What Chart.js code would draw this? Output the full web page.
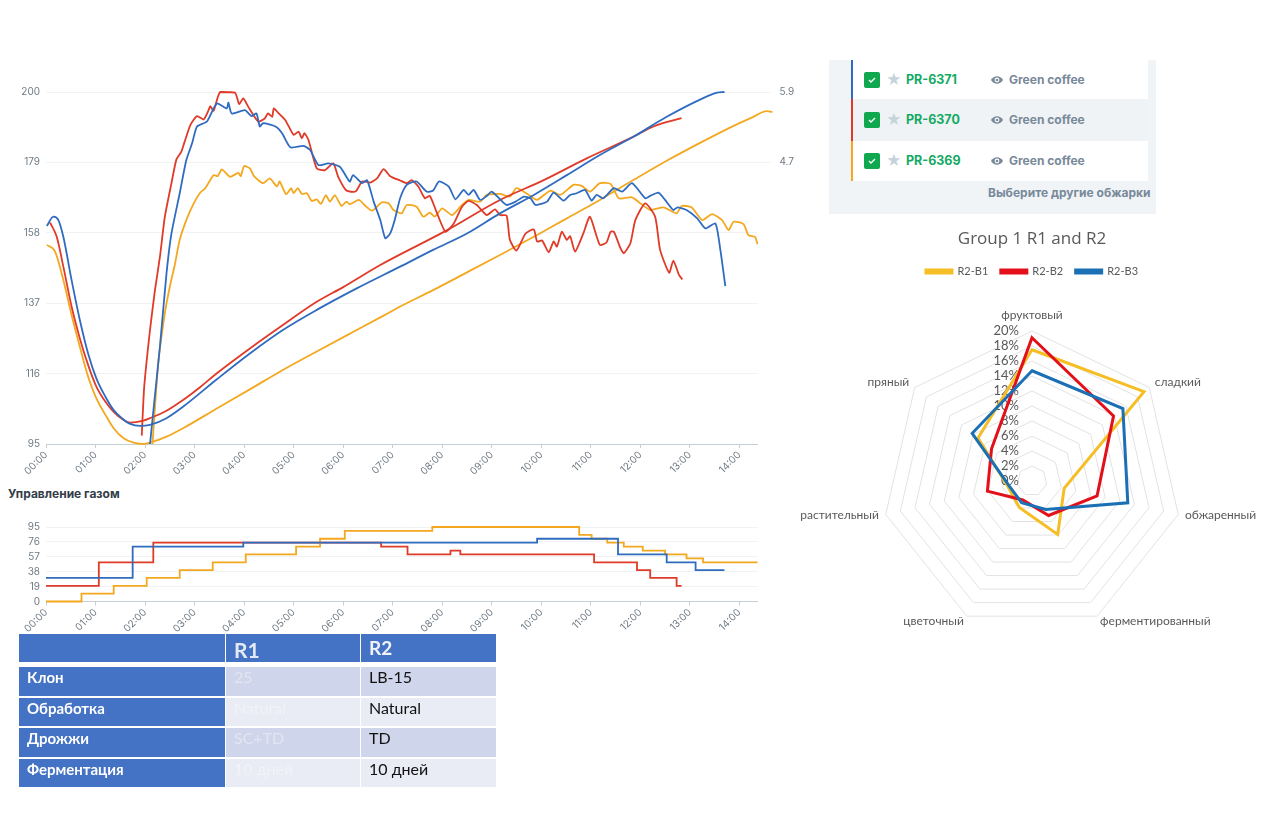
<!DOCTYPE html>
<html>
<head>
<meta charset="utf-8">
<title>Group 1 R1 and R2</title>
<script src="https://cdn.jsdelivr.net/npm/chart.js@4"></script>
<style>
  body { margin: 0; background: #fff; width: 1280px; height: 835px; overflow: hidden; position: relative; font-family: Inter, sans-serif; }
  canvas { position: absolute; }
  .abs { position: absolute; }
  #gasTitle { left: 8px; top: 486px; font-size: 12px; font-weight: 700; color: #333d47; }
  #panel { left: 829px; top: 60px; width: 327px; height: 154px; background: #f1f4f7; }
  .row { position: absolute; left: 24px; width: 295px; }
  .bar { position: absolute; left: -2px; top: 0; bottom: 0; width: 2px; }
  .check { position: absolute; left: 11px; width: 16px; height: 16px; border-radius: 2px; background: #10a84f; }
  .star { position: absolute; left: 33px; font-size: 15px; color: #c5d3da; line-height: 16px; }
  .code { position: absolute; left: 53px; font-size: 12.5px; font-weight: 700; color: #14a963; line-height: 16px; }
  .eye { position: absolute; left: 137px; }
  .name { position: absolute; left: 156px; font-size: 12px; font-weight: 700; color: #78899a; line-height: 16px; }
  #more { left: 159px; top: 125px; font-size: 12px; font-weight: 700; color: #78899a; white-space: nowrap; }
  #info { left: 18px; top: 632px; border-collapse: separate; border-spacing: 1px 2px; font-family: Lato, sans-serif; table-layout: fixed; }
  #info td { padding: 0 0 0 8px; height: 28.5px; vertical-align: top; background: #cfd5ea; font-size: 16px; color: #111; line-height: 20px; }
  #info tr.alt td { background: #e9ebf5; }
  #info tr td.head { background: #4472c4; color: #fff; font-weight: 700; font-size: 15px; }
  #info tr.top td { height: 28px; background: #4472c4; font-weight: 700; color: #f0f3fa; font-size: 19px; line-height: 28px; border-bottom: 3px solid #fff; }
  #info tr.top td:nth-child(2) { font-size: 21px; color: #e4e9f4; }
  #info tr.top td:nth-child(2) span { position: relative; top: 2px; }
  #info td.faint { color: rgba(255, 255, 255, 0.4); }
</style>
</head>
<body>
<canvas id="roastChart" width="800" height="400" style="left:0;top:77px"></canvas>
<div class="abs" id="gasTitle">Управление газом</div>
<canvas id="gasChart" width="800" height="125" style="left:0;top:515px"></canvas>
<div class="abs" id="panel"><div class="abs" id="more">Выберите другие обжарки</div></div>
<canvas id="radarChart" width="484" height="448" style="left:790px;top:229px"></canvas>
<table class="abs" id="info"></table>

<script>
// часы по оси X
const hourLabels = ['00:00', '01:00', '02:00', '03:00', '04:00', '05:00', '06:00', '07:00', '08:00', '09:00', '10:00', '11:00', '12:00', '13:00', '14:00'];
const tempTicks = [95, 116, 137, 158, 179, 200];
const rightTicks = [4.7, 5.9];
const gasTicks = [0, 19, 38, 57, 76, 95];

// температура, минуты / значение
const yellowTempT = [1, 11, 21, 31, 41, 51, 61, 72, 82, 94, 106, 118, 126, 146, 166, 207, 247, 287, 328, 368, 409, 429, 469, 510, 550, 591, 631, 671, 712, 752, 793, 833, 857, 873, 880];
const yellowTempV = [154.4, 152.4, 143.9, 133.5, 124, 115.1, 108.6, 103.7, 99.7, 96.7, 95.4, 95, 95.4, 97.2, 99.7, 105.6, 111.3, 117.1, 122.6, 127.9, 133.3, 136, 140.9, 146.2, 151.4, 156.8, 162.3, 167.8, 173.8, 179.5, 184.9, 189.9, 192.6, 194.3, 194];
const redTempT = [5, 13, 21, 31, 41, 51, 61, 72, 82, 92, 102, 118, 126, 146, 166, 187, 207, 247, 287, 328, 360, 405, 486, 550, 603, 655, 712, 736, 770];
const redTempV = [161, 156.8, 147.9, 136, 126.5, 118.6, 112.1, 107.6, 104.6, 102.5, 101.4, 102, 102.7, 104.9, 108.1, 112, 116.1, 123.5, 130.5, 137.4, 141.8, 148.4, 158.8, 167.8, 173.7, 180.2, 186.7, 189.7, 192.2];
const blueTempT = [1, 9, 15, 21, 31, 41, 51, 61, 72, 82, 92, 102, 114, 126, 146, 166, 207, 247, 287, 328, 377, 429, 469, 510, 550, 591, 631, 671, 712, 752, 793, 813, 822];
const blueTempV = [160, 162.8, 161.8, 156.8, 143.9, 132, 122, 114.6, 109.1, 105.1, 102.7, 101, 100.4, 100.7, 102.7, 106.1, 114.3, 122, 129, 135, 141.5, 147.9, 152.9, 157.8, 163.8, 169.3, 175.2, 181.2, 186.7, 192.6, 197.8, 199.8, 200];

// скорость роста (шумные линии)
const yellowRorT = [129, 136, 144, 150, 156, 162, 170, 179, 187, 193, 203, 208, 213, 223, 233, 236, 240, 247, 252, 263, 271, 280, 283, 291, 297, 300, 305, 310, 316, 322, 328, 333, 339, 344, 350, 358, 364, 368, 379, 387, 395, 407, 415, 421, 431, 437, 449, 457, 465, 471, 480, 492, 504, 512, 526, 534, 550, 562, 570, 585, 595, 611, 623, 639, 649, 659, 671, 684, 694, 710, 720, 732, 748, 764, 770, 782, 795, 807, 819, 827, 833, 845, 851, 859, 862];
const yellowRorV = [95, 119.1, 134, 141.9, 148.4, 155.9, 161.8, 166.8, 170, 171.3, 175.2, 174.9, 176.9, 174.7, 175.9, 174.9, 177.9, 177.2, 174.9, 172.8, 174.2, 171.8, 173.3, 169.5, 171.3, 169.8, 171.3, 169.6, 169.8, 167.5, 168, 166.6, 169.2, 167.3, 169.2, 166, 167.3, 166.5, 167.8, 166, 164.6, 167.1, 166.8, 164.8, 163.8, 166.3, 165.8, 162.8, 164, 162.8, 165.3, 163.3, 166.3, 167.8, 167.3, 169.3, 169.6, 168.8, 171.3, 169.3, 167.8, 170.6, 169.3, 172.3, 172, 170.3, 172.8, 172.6, 168.3, 168.6, 166.8, 164.8, 165.6, 163.8, 166, 165.6, 161.8, 163.6, 161.8, 158.8, 161.3, 160.6, 157.3, 156.8, 154.6];
const redRorT = [116, 119, 126, 132, 138, 144, 152, 158, 164, 168, 175, 183, 191, 197, 199, 203, 211, 229, 234, 239, 245, 257, 265, 269, 274, 276, 282, 290, 300, 306, 310, 313, 318, 328, 338, 348, 354, 364, 375, 383, 393, 401, 409, 417, 429, 437, 443, 451, 459, 465, 473, 484, 494, 504, 512, 522, 534, 544, 550, 558, 562, 570, 581, 591, 595, 601, 609, 615, 619, 625, 631, 635, 641, 651, 659, 671, 679, 684, 688, 696, 700, 708, 714, 726, 738, 744, 755, 760, 767, 771];
const redRorV = [97.5, 112.1, 129, 140.9, 150.8, 162.8, 172.8, 179.9, 182.2, 185.2, 190.2, 192.8, 191.8, 194.6, 195.8, 194.4, 200, 199.8, 196.4, 198.1, 195.6, 191.2, 192.1, 193.6, 192.6, 195.1, 193.6, 191.6, 187.2, 188.2, 186.2, 187.7, 185.7, 177.2, 176.7, 178.7, 174.7, 170.6, 170.3, 173.3, 173, 174.2, 177, 174.9, 173.6, 172.8, 173.7, 171.8, 168.3, 169, 164.3, 158.3, 160.8, 165.8, 167.5, 166.3, 163.3, 165, 163.3, 163.1, 155.9, 152.7, 157.8, 159, 155.4, 155.7, 152.2, 155.4, 153.9, 158.3, 155.9, 157, 152.4, 157.8, 162.8, 154.4, 155.1, 158.3, 158.3, 153.4, 151.9, 154.9, 161.8, 166.8, 162.8, 152.9, 146.1, 149.7, 145.4, 144.1];
const blueRorT = [126, 131, 138, 146, 152, 162, 170, 177, 183, 195, 207, 219, 221, 225, 241, 249, 255, 259, 263, 278, 286, 296, 312, 320, 330, 342, 356, 368, 372, 383, 389, 397, 405, 411, 417, 423, 429, 437, 449, 461, 469, 476, 488, 496, 506, 512, 518, 526, 534, 540, 550, 558, 569, 579, 587, 593, 607, 615, 627, 635, 643, 653, 661, 667, 675, 688, 698, 710, 726, 732, 742, 750, 760, 765, 776, 789, 799, 811, 817, 823];
const blueRorV = [95, 107.1, 124, 145.9, 157.8, 169.8, 179.7, 184.7, 189.7, 191.2, 196.6, 195.1, 196.8, 193.6, 194.6, 192.8, 193.6, 189.7, 190.7, 189.7, 187.7, 183.5, 183.9, 182.7, 178.2, 178.7, 177.7, 173.3, 175.2, 172.8, 173.7, 167.3, 161.8, 156.4, 157.8, 162.3, 168.3, 172.3, 173.3, 170.3, 170.6, 173.3, 171.8, 168, 170.8, 169.3, 170.8, 167.8, 169, 170.3, 168, 166.3, 167.3, 168.8, 168.3, 166.3, 167.3, 170, 167.6, 169.3, 169.8, 170.8, 167.6, 169.3, 168.3, 171.3, 170.3, 172.8, 168.3, 169, 170, 167.8, 164.8, 165.6, 164.8, 162.3, 159.3, 160.8, 152.9, 142.1];

// газ: минута переключения / уровень
const yellowGasT = [0, 43, 82, 122, 162, 202, 242, 303, 332, 362, 468, 646, 661, 680, 700, 723, 750, 776, 796, 862];
const yellowGasV = [0, 10, 20, 30, 40, 50, 60, 70, 80, 90, 95, 85, 80, 75, 70, 65, 60, 55, 50, 50];
const redGasT = [0, 64, 130, 406, 438, 490, 502, 664, 716, 732, 764, 770];
const redGasV = [20, 50, 75, 70, 60, 65, 60, 50, 40, 30, 20, 20];
const blueGasT = [0, 105, 239, 595, 693, 752, 787, 822];
const blueGasV = [30, 70, 75, 80, 60, 50, 40, 40];

// радар
const flavorLabels = ['фруктовый', 'сладкий', 'обжаренный', 'ферментированный', 'цветочный', 'растительный', 'пряный'];
const radarB1 = [17.5, 19.1, 4.4, 7.9, 3.9, 3.3, 9.2];
const radarB2 = [19.1, 13.9, 8.9, 5.1, 2.8, 6.1, 6.9];
const radarB3 = [14.7, 15.5, 13.1, 4.2, 3.2, 3.1, 10.2];
const radarNames = ['R2-B1', 'R2-B2', 'R2-B3'];

// панель обжарок
const roastCodes = ['PR-6371', 'PR-6370', 'PR-6369'];
const roastNames = ['Green coffee', 'Green coffee', 'Green coffee'];

// таблица
const tableHead = ['', 'R1', 'R2'];
const tableRows = ['Клон', 'Обработка', 'Дрожжи', 'Ферментация'];
const tableR1 = ['25', 'Natural', 'SC+TD', '10 дней'];
const tableR2 = ['LB-15', 'Natural', 'TD', '10 дней'];

const BLUE = '#2f6cc0';
const RED = '#e03a28';
const YELLOW = '#f3a81f';
const GRID = '#f0f2f4';
const LABEL = '#6f7a84';

function toPoints(times, values) {
  return times.map((t, i) => ({ x: t, y: values[i] }));
}

function line(times, values, color, extra) {
  return Object.assign({
    data: toPoints(times, values),
    borderColor: color,
    borderWidth: 1.8,
    pointRadius: 0,
    fill: false,
    clip: false,
    cubicInterpolationMode: 'monotone'
  }, extra);
}

// шумные линии без сильного сглаживания
const noisy = { cubicInterpolationMode: 'default', tension: 0.2 };
const steps = { stepped: true, cubicInterpolationMode: 'default' };

// ось времени, общая для двух графиков
function timeAxis(height) {
  return {
    type: 'linear',
    afterDataLimits: s => { s.min = 0; s.max = 862; },
    afterBuildTicks: s => {
      s.ticks = hourLabels.map((_, i) => ({ value: i * 60 }));
      s.min = 0;
      s.max = 862;
    },
    afterFit: s => { s.height = height; },
    grid: { drawOnChartArea: false, tickLength: 4, tickColor: '#c4d0d6' },
    border: { color: '#c4d0d6' },
    ticks: {
      autoSkip: false, maxRotation: 45, minRotation: 45, padding: 1,
      color: LABEL, font: { family: 'Inter', size: 10 },
      callback: v => hourLabels[v / 60]
    }
  };
}

function valueAxis(list) {
  return {
    min: list[0],
    max: list[list.length - 1],
    afterBuildTicks: s => { s.ticks = list.map(v => ({ value: v })); },
    afterFit: s => { s.width = 46; },
    grid: { color: GRID, drawTicks: false },
    border: { display: false },
    ticks: { autoSkip: false, padding: 6, color: LABEL, font: { family: 'Inter', size: 10 } }
  };
}

new Chart(document.getElementById('roastChart'), {
  type: 'line',
  data: {
    datasets: [
      line(blueTempT, blueTempV, BLUE),
      line(blueRorT, blueRorV, BLUE, noisy),
      line(redTempT, redTempV, RED),
      line(redRorT, redRorV, RED, noisy),
      line(yellowTempT, yellowTempV, YELLOW),
      line(yellowRorT, yellowRorV, YELLOW, noisy)
    ]
  },
  options: {
    responsive: false,
    animation: false,
    layout: { padding: { top: 9 } },
    plugins: { legend: { display: false }, tooltip: { enabled: false } },
    scales: {
      x: timeAxis(33),
      y: valueAxis(tempTicks),
      yRight: {
        position: 'right',
        min: -0.1,
        max: 5.9,
        afterBuildTicks: s => { s.ticks = rightTicks.map(v => ({ value: v })); },
        afterFit: s => { s.width = 42.5; },
        grid: { drawOnChartArea: false, tickLength: 13, tickColor: GRID },
        border: { display: false },
        ticks: { padding: 9, color: LABEL, font: { family: 'Inter', size: 10 } }
      }
    }
  }
});

new Chart(document.getElementById('gasChart'), {
  type: 'line',
  data: {
    datasets: [
      line(blueGasT, blueGasV, BLUE, steps),
      line(yellowGasT, yellowGasV, YELLOW, steps),
      line(redGasT, redGasV, RED, steps)
    ]
  },
  options: {
    responsive: false,
    animation: false,
    layout: { padding: { top: 7.5, right: 42.5 } },
    plugins: { legend: { display: false }, tooltip: { enabled: false } },
    scales: { x: timeAxis(38.5), y: valueAxis(gasTicks) }
  }
});

// подписи радара: проценты слева от оси (под линиями), категории у вершин
const radarText = {
  id: 'radarText',
  beforeDatasetsDraw(chart) {
    const s = chart.scales.r;
    const ctx = chart.ctx;
    ctx.save();
    ctx.fillStyle = '#595959';
    ctx.font = '13px Lato';
    ctx.textAlign = 'right';
    ctx.textBaseline = 'middle';
    s.ticks.forEach(t => {
      ctx.fillText(t.value + '%', s.xCenter - 13, s.yCenter - s.getDistanceFromCenterForValue(t.value));
    });
    ctx.font = '12px Lato';
    flavorLabels.forEach((label, i) => {
      const p = s.getPointPosition(i, s.drawingArea + 7);
      const dx = p.x - s.xCenter;
      const top = Math.abs(dx) < 1;
      ctx.textAlign = top ? 'center' : (dx > 0 ? 'left' : 'right');
      ctx.textBaseline = top ? 'bottom' : 'middle';
      ctx.fillText(label, p.x, top ? p.y - 3 : p.y - 1);
    });
    ctx.restore();
  }
};

function radarSet(name, values, color) {
  return { label: name, data: values, borderColor: color, backgroundColor: color, borderWidth: 3, pointRadius: 0, fill: false };
}

new Chart(document.getElementById('radarChart'), {
  type: 'radar',
  data: {
    labels: flavorLabels,
    datasets: [
      radarSet(radarNames[2], radarB3, '#1b6fb5'),
      radarSet(radarNames[1], radarB2, '#e3101a'),
      radarSet(radarNames[0], radarB1, '#f5be25')
    ]
  },
  options: {
    responsive: false,
    animation: false,
    layout: { padding: { left: 92, right: 92 } },
    plugins: {
      tooltip: { enabled: false },
      title: { display: true, text: 'Group 1 R1 and R2', color: '#595959', font: { family: 'Open Sans', size: 17, weight: 'normal' }, padding: { top: 0, bottom: 4 } },
      legend: {
        reverse: true,
        labels: { boxWidth: 26, boxHeight: 3, padding: 12.5, color: '#595959', font: { family: 'Lato', size: 11 } }
      }
    },
    scales: {
      r: {
        min: 0,
        max: 20,
        ticks: { display: false, stepSize: 2 },
        angleLines: { display: false },
        grid: { color: '#e2e2e2', lineWidth: 1 },
        pointLabels: { display: false }
      }
    }
  },
  plugins: [radarText]
});

// панель с обжарками
const panel = document.getElementById('panel');
const rowColors = [BLUE, RED, YELLOW];
const rowTops = [0, 39, 81];
const rowHeights = [39, 42, 40];
roastCodes.forEach((code, i) => {
  const mid = Math.round(rowHeights[i] / 2) - 8;
  const row = document.createElement('div');
  row.className = 'row';
  row.style.top = rowTops[i] + 'px';
  row.style.height = rowHeights[i] + 'px';
  row.style.background = i === 1 ? '#eff3f5' : '#fff';
  row.innerHTML =
    '<div class="bar" style="background:' + rowColors[i] + '"></div>' +
    '<div class="check" style="top:' + mid + 'px"><svg width="16" height="16"><path d="M5 8l2 2 4-4" fill="none" stroke="#fff" stroke-width="1.4"/></svg></div>' +
    '<div class="star" style="top:' + mid + 'px">★</div>' +
    '<div class="code" style="top:' + mid + 'px">' + code + '</div>' +
    '<svg class="eye" style="top:' + mid + 'px" width="14" height="16"><path d="M1 8c3-5 9-5 12 0-3 5-9 5-12 0z" fill="#78899a"/><circle cx="7" cy="8" r="2.4" fill="#fff"/><circle cx="7" cy="8" r="1.3" fill="#78899a"/></svg>' +
    '<div class="name" style="top:' + mid + 'px">' + roastNames[i] + '</div>';
  panel.appendChild(row);
});

// таблица
let html = '<colgroup><col style="width:206px"><col style="width:134px"><col style="width:135px"></colgroup>';
html += '<tr class="top">' + tableHead.map(h => '<td><span>' + h + '</span></td>').join('') + '</tr>';
tableRows.forEach((name, i) => {
  html += '<tr class="' + (i % 2 ? 'alt' : '') + '"><td class="head">' + name + '</td><td class="faint">' + tableR1[i] + '</td><td>' + tableR2[i] + '</td></tr>';
});
document.getElementById('info').innerHTML = html;
</script>
</body>
</html>
